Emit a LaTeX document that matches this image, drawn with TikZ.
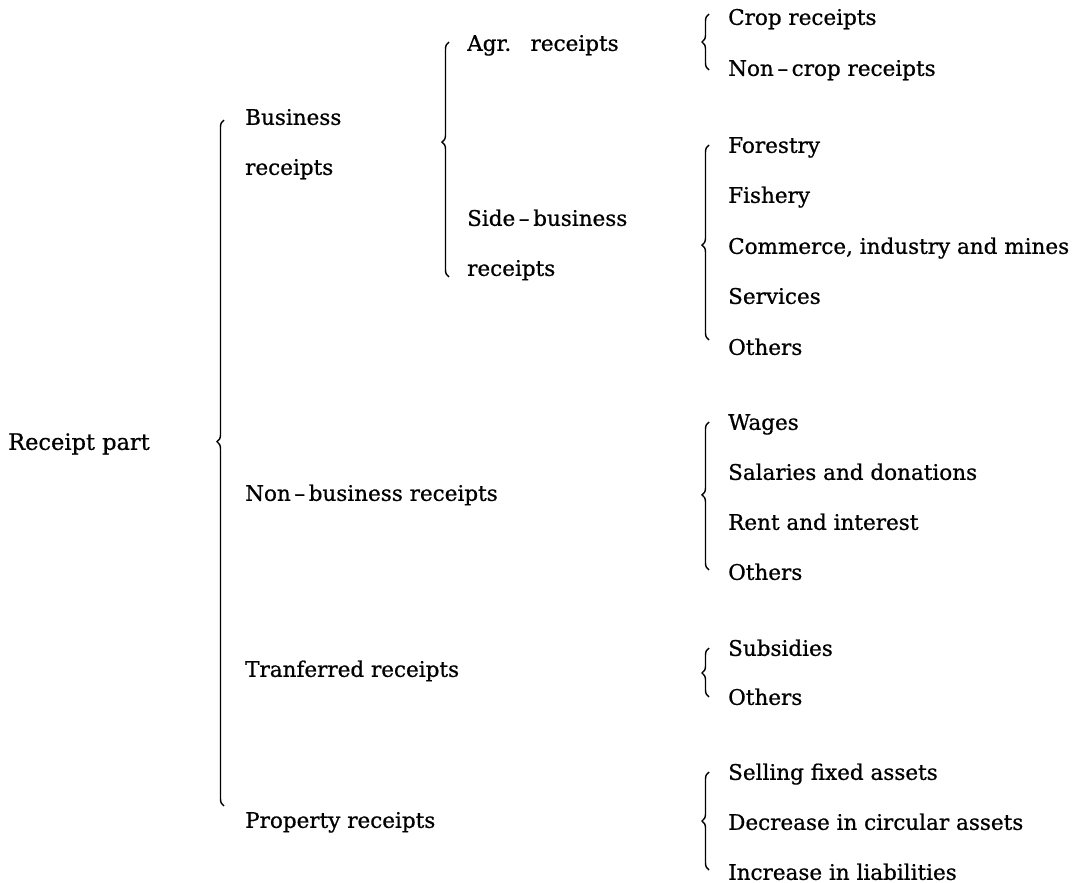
\documentclass[tikz,border=0pt]{standalone}
\usepackage{fontspec}
\setmainfont{DejaVu Serif}[FakeBold=0.7]
\usetikzlibrary{decorations.pathreplacing,calc}
\begin{document}
\begin{tikzpicture}[x=1pt,y=-1pt,
  lbl/.style={anchor=west, inner sep=0pt, font=\fontsize{21.5}{24}\selectfont, text height=15.7pt, text depth=0pt},
  brc/.style={decorate, decoration={brace, amplitude=7pt, aspect=#1}, line width=1.4pt},
  brc/.default=0.5]
\useasboundingbox (0,0) rectangle (1079,883);
% root
\node[lbl, font=\fontsize{22.5}{24}\selectfont] (rp) at (8,442) {Receipt part};
% column 1
\node[lbl] (bus)  at (245,117) {Business};
\node[lbl] (busr) at (245,167) {receipts};
\node[lbl] (nonb) at (245,493) {Non\,–\,business receipts};
\node[lbl] (tran) at (245,669) {Tranferred receipts};
\node[lbl] (prop) at (245,820) {Property receipts};
% column 2
\node[lbl] (agr)   at (467,43)  {Agr.\hspace{0.9em}receipts};
\node[lbl] (side)  at (467,218) {Side\,–\,business};
\node[lbl] (sider) at (467,268) {receipts};
% column 3
\node[lbl] (crop)  at (728,17)  {Crop receipts};
\node[lbl] (ncrop) at (728,68)  {Non\,–\,crop receipts};
\node[lbl] (fore)  at (728,145) {Forestry};
\node[lbl] (fish)  at (728,195) {Fishery};
\node[lbl] (comm)  at (728,246) {Commerce, industry and mines};
\node[lbl] (serv)  at (728,296) {Services};
\node[lbl] (oth1)  at (728,347) {Others};
\node[lbl] (wage)  at (728,422) {Wages};
\node[lbl] (sal)   at (728,472) {Salaries and donations};
\node[lbl] (rent)  at (728,522) {Rent and interest};
\node[lbl] (oth2)  at (728,572) {Others};
\node[lbl] (subs)  at (728,648) {Subsidies};
\node[lbl] (oth3)  at (728,697) {Others};
\node[lbl] (sell)  at (728,772) {Selling fixed assets};
\node[lbl] (decr)  at (728,822) {Decrease in circular assets};
\node[lbl] (incr)  at (728,872) {Increase in liabilities};
% braces
\draw[brc=0.531] ($(prop.west)+(-21,-14)$) -- ($(bus.west)+(-21,3)$);
\draw[brc=0.574] ($(sider.west)+(-18,9)$) -- ($(agr.west)+(-18,-1)$);
\draw[brc=0.5]   ($(ncrop.west)+(-19,2)$) -- ($(crop.west)+(-19,-3)$);
\draw[brc=0.487] ($(oth1.west)+(-19,-7)$) -- ($(fore.west)+(-19,0)$);
\draw[brc=0.507] ($(oth2.west)+(-19,-2)$) -- ($(wage.west)+(-19,0)$);
\draw[brc=0.49]  ($(oth3.west)+(-19,0)$) -- ($(subs.west)+(-19,0)$);
\draw[brc=0.5]   ($(incr.west)+(-19,-2)$) -- ($(sell.west)+(-19,0)$);
\end{tikzpicture}
\end{document}
